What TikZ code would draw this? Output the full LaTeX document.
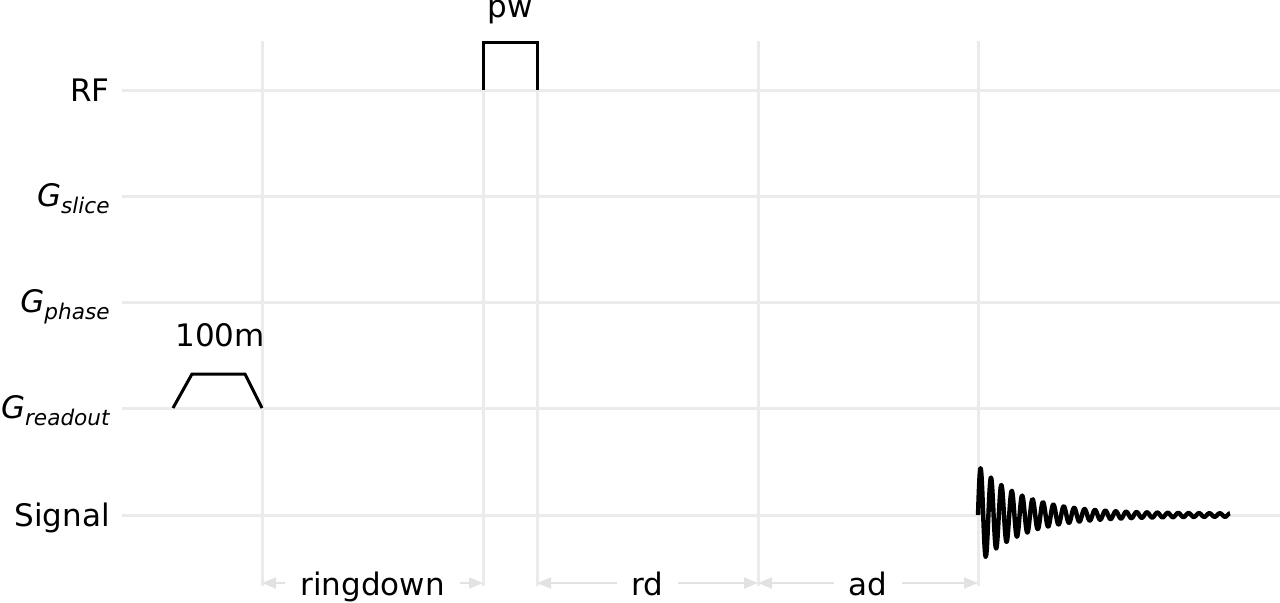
\documentclass[tikz,border=0pt]{standalone}
\usepackage{fontspec}
\setmainfont{DejaVu Sans}
\usetikzlibrary{arrows.meta,positioning}
\definecolor{gridgray}{HTML}{EBEBEB}
\definecolor{spangray}{HTML}{E2E2E2}
\newcommand{\gradlabel}[1]{\textit{G}\raisebox{-3.5pt}{\fontsize{10.8}{12}\selectfont\itshape #1}}

\begin{document}
\begin{tikzpicture}[x=0.5pt, y=-0.5pt,
    every node/.style={
        inner sep=0pt,
        font=\fontsize{15.5}{18}\selectfont
    },
    grid/.style={gridgray, line width=1.5pt},
    wave/.style={black, line width=1.5pt},
    span/.style={
        {Triangle[length=7pt,width=5.5pt]}-{Triangle[length=7pt,width=5.5pt]},
        spangray, line width=1pt
    },
    spanlabel/.style={fill=white, inner xsep=7.5pt, inner ysep=2pt, text=black}
]
    \useasboundingbox (0,0) rectangle (1280,602);

    \foreach \y in {90,196,302,408,515}
        \draw[grid] (122,\y) -- (1280,\y);
    \foreach \x in {262,483,537,758,978}
        \draw[grid] (\x,41) -- (\x,586);

    \node (rf_label) [anchor=base east] at (110,101) {RF};
    \node (slice_label) [anchor=base east] at (110,206) {\gradlabel{slice}};
    \node (phase_label) [anchor=base east] at (110,312) {\gradlabel{phase}};
    \node (readout_label) [anchor=base east] at (110,418) {\gradlabel{readout}};
    \node (signal_label) [anchor=base east] at (110,526) {Signal};

    \draw[wave] (483,90) -- (483,42) -- (537,42) -- (537,90);
    \node (pw_label) [anchor=base] at (510,17) {pw};

    \draw[wave] (173,408) -- (192,374) -- (245,374) -- (262,408);
    \node (grad_label) [anchor=base] at (220,346) {100m};

    \draw[wave, line width=2.2pt, line join=round]
        plot[domain=0:252, samples=700]
        ({978+\x}, {515 - (48*exp(-\x/45)+1.5)*sin(34.615*\x)});

    \coordinate (ringdown_start) at (262,583);
    \coordinate (ringdown_end) at (483,583);
    \coordinate (rd_start) at (537,583);
    \coordinate (rd_end) at (758,583);
    \coordinate (ad_start) at (758,583);
    \coordinate (ad_end) at (978,583);
    \draw[span] (ringdown_start) -- (ringdown_end)
        node (ringdown_label) [midway, spanlabel, anchor=base, yshift=-6pt] {ringdown};
    \draw[span] (rd_start) -- (rd_end)
        node (rd_label) [midway, spanlabel, anchor=base, yshift=-6pt] {rd};
    \draw[span] (ad_start) -- (ad_end)
        node (ad_label) [midway, spanlabel, anchor=base, yshift=-6pt] {ad};
\end{tikzpicture}
\end{document}
